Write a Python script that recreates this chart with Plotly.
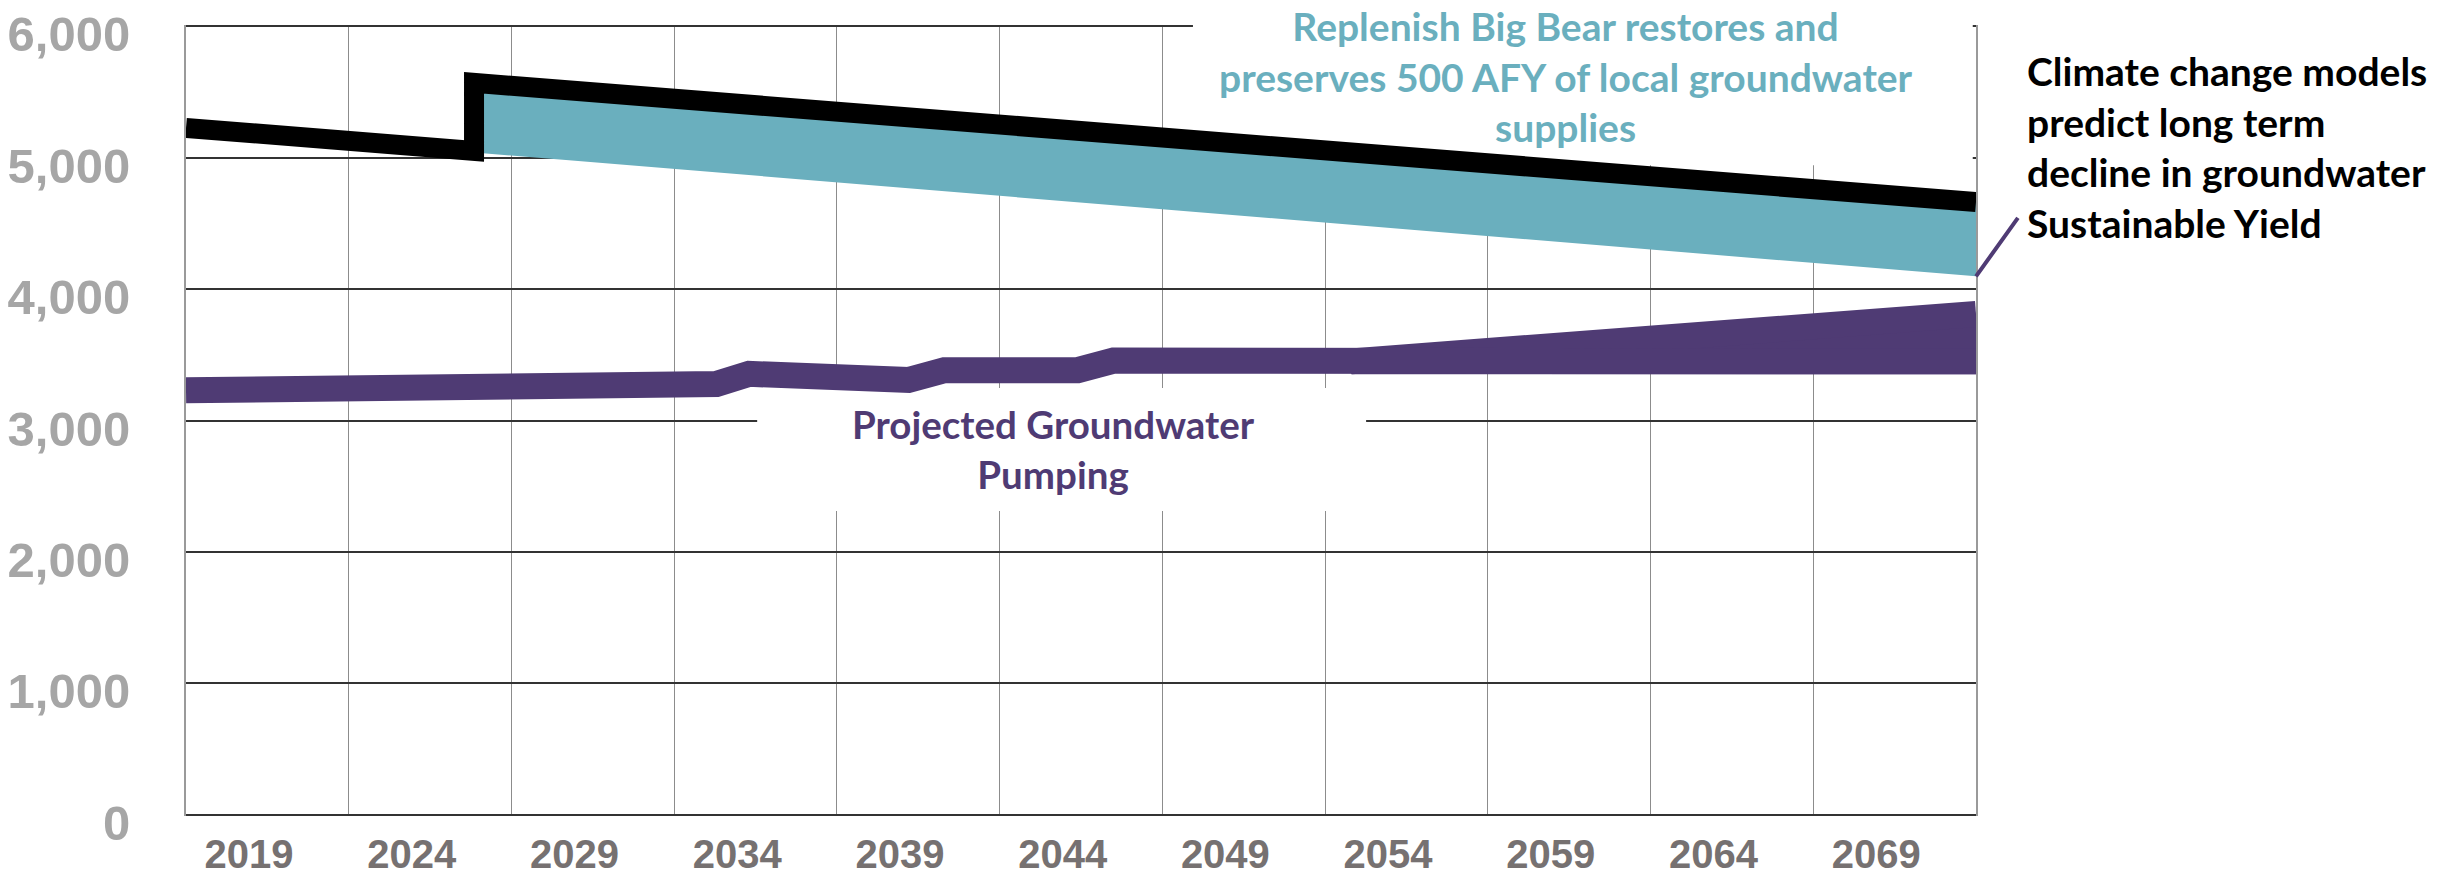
import plotly.graph_objects as go

# ---------------- data ----------------
tick_years = [2019, 2024, 2029, 2034, 2039, 2044, 2049, 2054, 2059, 2064, 2069]
tick_labels = ["2019", "2024", "2029", "2034", "2039", "2044", "2049", "2054", "2059", "2064", "2069"]
y_ticks = [0, 1000, 2000, 3000, 4000, 5000, 6000]

# Groundwater sustainable yield (black line), with the Replenish Big Bear step
years_yield = [2019, 2027.85, 2027.85, 2074]
sustainable_yield = [5227, 5052, 5570, 4662]

# Replenish Big Bear band (teal)
years_replenish = [2027.85, 2074]
replenish_top = [5570, 4662]
replenish_base = [5040, 4097]

# Projected groundwater pumping (purple)
years_pumping = [2019, 2030.2, 2031.3, 2033.3, 2035.3, 2036.3, 2040.0, 2041.2,
                 2042.3, 2046.4, 2047.5, 2054.8, 2074]
pumping = [3230, 3247, 3295, 3265, 3278, 3355, 3307, 3308,
           3383, 3383, 3456, 3450, 3450]

# Pumping range widening after 2055
years_pumping_range = [2054.8, 2074]
pumping_low = [3450, 3450]
pumping_high = [3450, 3810]

# ---------------- style ----------------
TEAL = "#6AAFBE"
PURPLE = "#4F3B74"
BLACK = "#000000"

fig = go.Figure()

fig.add_trace(go.Scatter(x=years_replenish, y=replenish_base, mode="lines",
                         line=dict(width=0, color=TEAL), showlegend=False, hoverinfo="skip"))
fig.add_trace(go.Scatter(x=years_replenish, y=replenish_top, mode="lines",
                         line=dict(width=0, color=TEAL), fill="tonexty", fillcolor=TEAL,
                         showlegend=False, hoverinfo="skip"))

fig.add_trace(go.Scatter(x=years_pumping_range, y=pumping_low, mode="lines",
                         line=dict(width=26, color=PURPLE), showlegend=False, hoverinfo="skip"))
fig.add_trace(go.Scatter(x=years_pumping_range, y=pumping_high, mode="lines",
                         line=dict(width=26, color=PURPLE), fill="tonexty", fillcolor=PURPLE,
                         showlegend=False, hoverinfo="skip"))
fig.add_trace(go.Scatter(x=years_pumping, y=pumping, mode="lines",
                         line=dict(width=26, color=PURPLE), showlegend=False))

fig.add_trace(go.Scatter(x=years_yield, y=sustainable_yield, mode="lines",
                         line=dict(width=20, color=BLACK), showlegend=False))

# white text boxes: over the gridlines, under the data
fig.add_shape(type="rect", xref="x", yref="y", x0=2049.94, x1=2073.9, y0=4943, y1=6500,
              fillcolor="white", line=dict(width=0), layer="between")
fig.add_shape(type="rect", xref="x", yref="y", x0=2036.55, x1=2055.26, y0=2312, y1=3247,
              fillcolor="white", line=dict(width=0), layer="between")

ANN_FONT = "Lato, 'Open Sans', sans-serif"
fig.add_annotation(xref="paper", yref="paper", x=0.7709, y=0.9345, xanchor="center", yanchor="middle",
                   text="Replenish Big Bear restores and<br>preserves 500 AFY of local groundwater<br>supplies",
                   showarrow=False, align="center",
                   font=dict(family=ANN_FONT, size=39, color=TEAL, weight=700))
fig.add_annotation(xref="paper", yref="paper", x=0.4848, y=0.4645, xanchor="center", yanchor="middle",
                   text="Projected Groundwater<br>Pumping", showarrow=False, align="center",
                   font=dict(family=ANN_FONT, size=38.5, color=PURPLE, weight=700))
fig.add_annotation(xref="paper", yref="paper", x=1.0273, y=0.8453, xanchor="left", yanchor="middle",
                   text="Climate change models<br>predict long term<br>decline in groundwater<br>Sustainable Yield",
                   showarrow=False, align="left",
                   font=dict(family=ANN_FONT, size=39, color=BLACK, weight=700))
# leader line to the end of the sustainable-yield band
fig.add_annotation(x=years_replenish[-1], y=replenish_base[-1], xref="x", yref="y",
                   text="", showarrow=True, arrowhead=0, arrowwidth=4, arrowcolor=PURPLE,
                   ax=43, ay=-60, standoff=0, startstandoff=0)

fig.update_xaxes(range=[2019, 2074], tickmode="array", tickvals=tick_years, ticktext=tick_labels,
                 showgrid=True, gridcolor="#8C8C8C", gridwidth=1.3, zeroline=False, showline=False,
                 ticks="", ticklabelshift=63, ticklabelstandoff=11, automargin=False,
                 tickfont=dict(family="Liberation Sans, Arial", size=40, color="#767171", weight=700))
fig.update_yaxes(range=[-10, 6010], tickmode="array", tickvals=y_ticks, tickformat=",",
                 showgrid=True, gridcolor="#333333", gridwidth=2, zeroline=False,
                 showline=True, mirror=True, linecolor="#9A9A9A", linewidth=2,
                 ticks="", ticklabelshift=8, ticklabelstandoff=44, automargin=False,
                 ticklabeloverflow="allow",
                 tickfont=dict(family="Liberation Sans, Arial", size=49, color="#A6A6A6", weight=700))

fig.update_layout(width=2443, height=875, margin=dict(l=178, r=475, t=17, b=67),
                  paper_bgcolor="white", plot_bgcolor="white", showlegend=False)

fig.write_html("out.html")
